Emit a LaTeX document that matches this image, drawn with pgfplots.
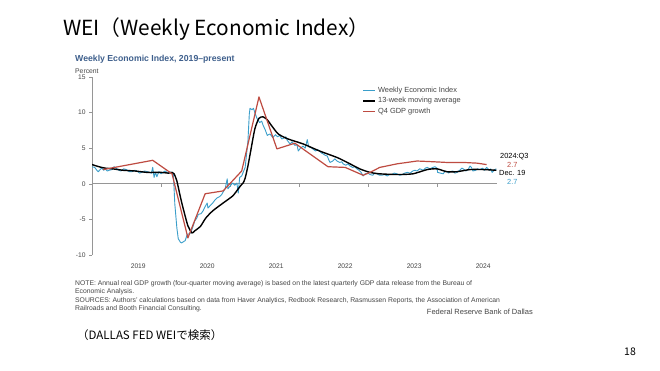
\documentclass[border=0pt]{standalone}
\usepackage{fontspec}
\setmainfont{Liberation Sans}
\newfontfamily\jp{Noto Sans CJK JP}
\usepackage{pgfplots}
\pgfplotsset{compat=1.18}
\definecolor{weiblue}{RGB}{58,158,202}
\definecolor{gdpred}{RGB}{190,75,65}
\definecolor{ttlblue}{RGB}{62,95,140}
\definecolor{axgray}{RGB}{150,150,150}
\definecolor{txtgray}{RGB}{70,70,70}
\begin{document}
\begin{tikzpicture}[x=1pt,y=1pt]
\fill[white] (0,0) rectangle (660,371);
\path[use as bounding box] (0,0) rectangle (660,371);
\node[anchor=west, inner sep=0pt, font=\jp\fontsize{20.8}{24}\selectfont] at (63,342) {WEI（Weekly Economic Index）};
\node[anchor=west, inner sep=0pt, text=ttlblue, font=\bfseries\fontsize{8.7}{10}\selectfont] at (75,312) {Weekly Economic Index, 2019–present};
\node[anchor=west, inner sep=0pt, text=txtgray, font=\fontsize{6.8}{8}\selectfont] at (75,300) {Percent};
\begin{axis}[at={(92pt,116pt)}, anchor=south west, scale only axis,
  width=405pt, height=178pt,
  xmin=2019, xmax=2024.87, ymin=-10, ymax=15,
  axis x line*=bottom, axis y line*=left,
  x axis line style={draw=none},
  y axis line style={draw=axgray, -},
  xtick={2019.67,2020.67,2021.67,2022.67,2023.67,2024.67},
  xticklabels={2019,2020,2021,2022,2023,2024},
  x tick style={draw=none},
  ytick={-10,-5,0,5,10,15},
  y tick style={axgray},
  tick align=outside, major tick length=3pt,
  tick label style={font=\fontsize{6.7}{8}\selectfont, text=txtgray},
  xticklabel style={yshift=-2pt},
  /pgf/number format/assume math mode=true,
  legend style={at={(0.668,0.955)}, anchor=north west, draw=none, fill=none,
    font=\fontsize{7.4}{8}\selectfont, text=txtgray, inner sep=0pt, row sep=-0.5pt,
    cells={anchor=west}},
  legend image code/.code={\draw[#1] (0pt,0pt) -- (12pt,0pt);},
]
\addplot[axgray, line width=1.1pt, forget plot] coordinates {(2019,0) (2024.87,0)};
\pgfplotsinvokeforeach{2020,2021,2022,2023,2024}{\draw[axgray] (axis cs:#1,0) -- ([yshift=-3pt]axis cs:#1,0);}
\addplot[weiblue, line width=0.9pt, line join=round] coordinates {
(2019.00,2.4) (2019.04,2.3) (2019.07,1.9) (2019.09,1.7) (2019.12,2.0) (2019.14,2.2) (2019.17,1.9) (2019.19,2.1) (2019.22,1.8) (2019.25,1.9) (2019.29,2.0) (2019.32,2.4) (2019.35,2.2) (2019.39,1.9) (2019.42,1.8) (2019.46,2.1) (2019.50,2.0) (2019.54,1.7) (2019.58,1.7) (2019.62,1.9) (2019.65,1.8) (2019.69,1.5) (2019.72,1.6) (2019.76,1.8) (2019.80,1.7) (2019.83,1.6) (2019.86,1.5) (2019.88,2.3) (2019.90,0.9) (2019.92,1.6) (2019.94,1.0) (2019.97,1.7) (2020.00,1.4) (2020.03,1.6) (2020.06,1.8) (2020.10,1.5) (2020.13,1.7) (2020.16,1.5) (2020.18,1.3) (2020.20,-2.8) (2020.23,-6.2) (2020.25,-7.7) (2020.28,-8.2) (2020.30,-8.3) (2020.33,-8.1) (2020.35,-8.0) (2020.38,-7.1) (2020.42,-7.0) (2020.45,-6.4) (2020.49,-5.2) (2020.52,-4.8) (2020.54,-4.3) (2020.58,-4.2) (2020.61,-3.8) (2020.64,-3.2) (2020.67,-2.7) (2020.68,-3.4) (2020.72,-3.0) (2020.75,-2.7) (2020.78,-2.3) (2020.81,-2.0) (2020.85,-1.8) (2020.88,-1.5) (2020.91,-1.0) (2020.93,-0.7) (2020.96,0.7) (2020.97,-0.7) (2021.01,-0.2) (2021.04,0.1) (2021.07,-0.2) (2021.10,0.1) (2021.12,-1.3) (2021.14,0.9) (2021.17,1.1) (2021.19,1.6) (2021.22,2.3) (2021.26,6.0) (2021.28,9.8) (2021.29,10.6) (2021.32,10.4) (2021.34,10.6) (2021.36,10.0) (2021.39,9.2) (2021.43,8.6) (2021.46,8.8) (2021.48,8.2) (2021.51,7.6) (2021.54,6.8) (2021.58,7.0) (2021.62,6.5) (2021.66,6.9) (2021.69,6.6) (2021.72,6.8) (2021.75,6.3) (2021.78,6.4) (2021.81,6.6) (2021.83,6.1) (2021.87,5.6) (2021.90,5.9) (2021.94,5.4) (2021.97,5.5) (2021.99,4.6) (2022.02,5.0) (2022.06,5.3) (2022.09,5.0) (2022.12,6.2) (2022.14,5.2) (2022.17,5.1) (2022.20,4.9) (2022.24,4.6) (2022.27,4.8) (2022.30,4.6) (2022.33,4.3) (2022.35,4.2) (2022.38,4.0) (2022.41,3.9) (2022.43,3.4) (2022.45,3.0) (2022.49,3.2) (2022.52,3.5) (2022.55,3.2) (2022.59,3.0) (2022.62,3.1) (2022.64,2.8) (2022.68,2.6) (2022.71,2.8) (2022.74,2.5) (2022.78,2.3) (2022.81,2.4) (2022.84,2.1) (2022.87,1.9) (2022.90,1.6) (2022.93,1.1) (2022.96,1.4) (2023.00,1.5) (2023.03,1.3) (2023.07,1.2) (2023.10,1.5) (2023.13,1.4) (2023.17,1.2) (2023.20,1.2) (2023.24,1.3) (2023.28,1.1) (2023.31,1.3) (2023.35,1.3) (2023.38,1.5) (2023.42,1.4) (2023.46,1.2) (2023.50,1.3) (2023.53,1.5) (2023.57,1.6) (2023.61,1.5) (2023.65,1.8) (2023.68,1.9) (2023.71,1.8) (2023.75,2.1) (2023.78,2.0) (2023.80,1.9) (2023.83,2.2) (2023.86,2.3) (2023.90,2.1) (2023.94,2.3) (2023.97,2.4) (2024.00,2.2) (2024.01,1.6) (2024.05,1.5) (2024.09,1.4) (2024.12,1.8) (2024.14,1.7) (2024.17,1.5) (2024.19,1.7) (2024.23,1.8) (2024.26,1.5) (2024.29,1.6) (2024.33,1.9) (2024.36,2.2) (2024.38,2.1) (2024.42,1.8) (2024.45,2.0) (2024.48,2.5) (2024.50,2.3) (2024.52,1.8) (2024.56,1.9) (2024.59,2.1) (2024.62,2.0) (2024.66,2.2) (2024.69,1.9) (2024.72,2.3) (2024.76,1.9) (2024.78,2.1) (2024.80,1.6) (2024.82,1.8) (2024.84,2.0) (2024.86,2.1)
};
\addlegendentry{Weekly Economic Index}
\addplot[black, line width=1.4pt, smooth, tension=0.4] coordinates {
(2019.00,2.7) (2019.10,2.4) (2019.19,2.2) (2019.30,2.1) (2019.45,1.9) (2019.62,1.8) (2019.80,1.6) (2020.00,1.6) (2020.11,1.5) (2020.16,1.6) (2020.19,1.4) (2020.23,0.4) (2020.28,-1.8) (2020.32,-3.4) (2020.39,-5.9) (2020.45,-6.9) (2020.49,-6.6) (2020.57,-6.0) (2020.65,-4.8) (2020.75,-3.8) (2020.90,-2.7) (2021.04,-1.7) (2021.12,-0.7) (2021.16,-0.2) (2021.19,0.1) (2021.22,0.8) (2021.26,2.5) (2021.30,4.6) (2021.36,7.7) (2021.42,9.2) (2021.48,9.4) (2021.54,9.0) (2021.60,8.2) (2021.70,7.0) (2021.84,6.3) (2022.06,5.6) (2022.30,4.6) (2022.55,3.7) (2022.70,3.0) (2022.88,2.1) (2023.03,1.6) (2023.17,1.4) (2023.42,1.3) (2023.65,1.4) (2023.86,2.0) (2024.00,2.1) (2024.14,1.7) (2024.29,1.7) (2024.48,2.0) (2024.67,2.0) (2024.86,1.9)
};
\addlegendentry{13-week moving average}
\addplot[gdpred, line width=1.2pt, line join=round] coordinates {
(2019.16,2.0) (2019.88,3.3) (2020.16,1.4) (2020.39,-7.6) (2020.64,-1.4) (2020.90,-1.0) (2021.17,1.8) (2021.42,12.2) (2021.68,4.9) (2021.94,5.7) (2022.42,2.4) (2022.67,2.3) (2022.93,1.2) (2023.03,1.6) (2023.17,2.3) (2023.42,2.8) (2023.71,3.2) (2023.94,3.1) (2024.14,3.0) (2024.38,3.0) (2024.58,2.9) (2024.72,2.7)
};
\addlegendentry{Q4 GDP growth}
\end{axis}
\begin{scope}[font=\fontsize{7.4}{8}\selectfont]
\node[anchor=west, inner sep=0pt] at (500,214) {2024:Q3};
\node[anchor=west, inner sep=0pt, text=gdpred] at (507,206) {2.7};
\node[anchor=west, inner sep=0pt] at (499,198) {Dec. 19};
\node[anchor=west, inner sep=0pt, text=weiblue] at (507,189) {2.7};
\end{scope}
\begin{scope}[font=\fontsize{6.8}{8}\selectfont, text=txtgray]
\node[anchor=west, inner sep=0pt] at (75,87) {NOTE: Annual real GDP growth (four-quarter moving average) is based on the latest quarterly GDP data release from the Bureau of};
\node[anchor=west, inner sep=0pt] at (75,79) {Economic Analysis.};
\node[anchor=west, inner sep=0pt] at (75,70) {SOURCES: Authors' calculations based on data from Haver Analytics, Redbook Research, Rasmussen Reports, the Association of American};
\node[anchor=west, inner sep=0pt] at (75,62) {Railroads and Booth Financial Consulting.};
\end{scope}
\node[anchor=east, inner sep=0pt, text=txtgray, font=\fontsize{7.5}{8}\selectfont] at (533,59) {Federal Reserve Bank of Dallas};
\node[anchor=west, inner sep=0pt, font=\jp\fontsize{11.5}{13}\selectfont] at (77,36) {（DALLAS FED WEIで検索）};
\node[anchor=center, inner sep=0pt, font=\jp\fontsize{10.5}{12}\selectfont] at (630,19) {18};
\end{tikzpicture}
\end{document}
